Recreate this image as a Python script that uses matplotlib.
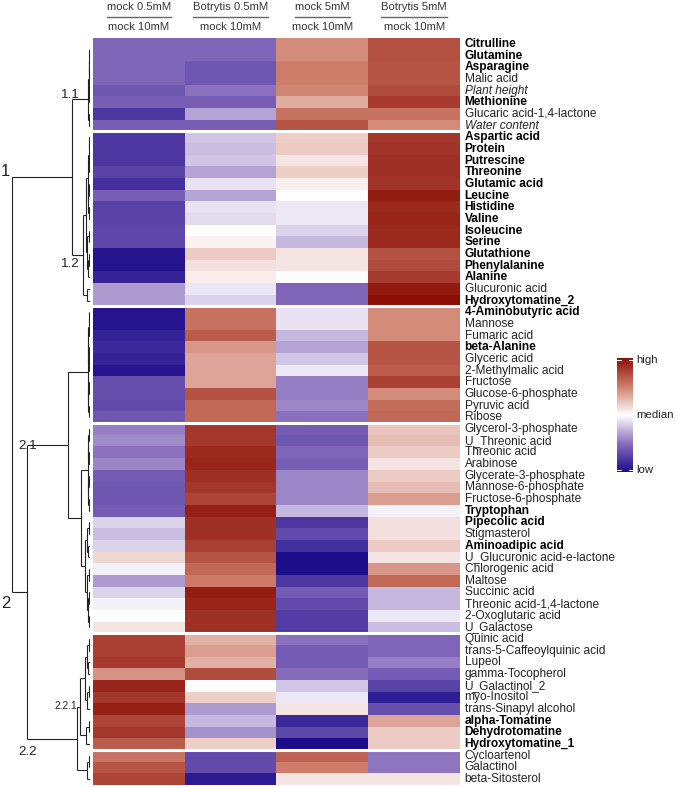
import numpy as np
import matplotlib
matplotlib.use('Agg')
import matplotlib.pyplot as plt
from matplotlib.colors import LinearSegmentedColormap
from matplotlib.lines import Line2D

plt.rcParams['font.family'] = ['Liberation Sans', 'DejaVu Sans']

W, H = 676, 787

# column headers (ratio: top / bottom)
cond_top = ['mock 0.5mM', 'Botrytis 0.5mM', 'mock 5mM', 'Botrytis 5mM']
cond_bottom = ['mock 10mM', 'mock 10mM', 'mock 10mM', 'mock 10mM']

metabolites = [
    'Citrulline', 'Glutamine', 'Asparagine', 'Malic acid', 'Plant height',
    'Methionine', 'Glucaric acid-1,4-lactone', 'Water content',
    'Aspartic acid', 'Protein', 'Putrescine', 'Threonine', 'Glutamic acid',
    'Leucine', 'Histidine', 'Valine', 'Isoleucine', 'Serine', 'Glutathione',
    'Phenylalanine', 'Alanine', 'Glucuronic acid', 'Hydroxytomatine_2',
    '4-Aminobutyric acid', 'Mannose', 'Fumaric acid', 'beta-Alanine',
    'Glyceric acid', '2-Methylmalic acid', 'Fructose', 'Glucose-6-phosphate',
    'Pyruvic acid', 'Ribose',
    'Glycerol-3-phosphate', 'U_Threonic acid', 'Threonic acid', 'Arabinose',
    'Glycerate-3-phosphate', 'Mannose-6-phosphate', 'Fructose-6-phosphate',
    'Tryptophan', 'Pipecolic acid', 'Stigmasterol', 'Aminoadipic acid',
    'U_Glucuronic acid-e-lactone', 'Chlorogenic acid', 'Maltose',
    'Succinic acid', 'Threonic acid-1,4-lactone', '2-Oxoglutaric acid',
    'U_Galactose',
    'Quinic acid', 'trans-5-Caffeoylquinic acid', 'Lupeol', 'gamma-Tocopherol',
    'U_Galactinol_2', 'myo-Inositol', 'trans-Sinapyl alcohol',
    'alpha-Tomatine', 'Dehydrotomatine', 'Hydroxytomatine_1',
    'Cycloartenol', 'Galactinol', 'beta-Sitosterol',
]
bold_names = {
    'Citrulline', 'Glutamine', 'Asparagine', 'Methionine', 'Aspartic acid',
    'Protein', 'Putrescine', 'Threonine', 'Glutamic acid', 'Leucine',
    'Histidine', 'Valine', 'Isoleucine', 'Serine', 'Glutathione',
    'Phenylalanine', 'Alanine', 'Hydroxytomatine_2', '4-Aminobutyric acid',
    'beta-Alanine', 'Tryptophan', 'Pipecolic acid', 'Aminoadipic acid',
    'alpha-Tomatine', 'Dehydrotomatine', 'Hydroxytomatine_1',
}
italic_names = {'Plant height', 'Water content'}
group_sizes = [8, 15, 10, 18, 10, 3]

# scaled values, -1 = low, 0 = median, 1 = high
mock_05 = [-0.55, -0.55, -0.55, -0.55, -0.62, -0.58, -0.78, -0.58,
           -0.78, -0.78, -0.78, -0.72, -0.82, -0.58, -0.72, -0.72, -0.70, -0.70,
           -0.95, -0.95, -0.88, -0.35, -0.35,
           -0.95, -0.95, -0.88, -0.85, -0.88, -0.95, -0.65, -0.65, -0.68, -0.62,
           -0.45, -0.40, -0.50, -0.42, -0.60, -0.62, -0.62, -0.60, -0.15, -0.22,
           -0.15, 0.15, -0.05, -0.35, -0.15, -0.04, 0.0, 0.10,
           0.78, 0.78, 0.80, 0.42, 0.90, 0.82, 0.92, 0.75, 0.82, 0.65,
           0.55, 0.68, 0.75]
botrytis_05 = [-0.55, -0.55, -0.62, -0.62, -0.50, -0.58, -0.32, -0.58,
               -0.20, -0.22, -0.20, -0.32, -0.10, -0.32, -0.10, -0.12, 0.0, 0.04,
               0.20, 0.12, 0.07, -0.08, -0.15,
               0.55, 0.55, 0.65, 0.40, 0.35, 0.35, 0.35, 0.70, 0.60, 0.60,
               0.82, 0.82, 0.88, 0.90, 0.85, 0.82, 0.75, 0.92, 0.85, 0.85,
               0.78, 0.68, 0.60, 0.52, 0.93, 0.90, 0.85, 0.85,
               0.30, 0.38, 0.30, 0.72, 0.0, 0.18, -0.35, -0.25, -0.38, 0.18,
               -0.68, -0.68, -0.92]
mock_5 = [0.45, 0.45, 0.50, 0.50, 0.47, 0.32, 0.55, 0.68,
          0.18, 0.20, 0.10, 0.18, 0.06, 0.0, -0.08, -0.08, -0.15, -0.25,
          0.10, 0.10, 0.0, -0.55, -0.55,
          -0.10, -0.10, -0.25, -0.32, -0.20, -0.08, -0.45, -0.45, -0.42, -0.50,
          -0.60, -0.62, -0.55, -0.58, -0.42, -0.42, -0.42, -0.25, -0.78, -0.68,
          -0.82, -0.98, -0.98, -0.78, -0.60, -0.68, -0.75, -0.75,
          -0.50, -0.60, -0.60, -0.52, -0.20, -0.08, 0.10, -0.85, -0.70, -1.0,
          0.62, 0.50, 0.10]
botrytis_5 = [0.70, 0.70, 0.68, 0.68, 0.72, 0.80, 0.55, 0.45,
              0.82, 0.83, 0.85, 0.85, 0.83, 0.93, 0.88, 0.90, 0.88, 0.88,
              0.70, 0.72, 0.80, 0.95, 1.0,
              0.45, 0.45, 0.45, 0.68, 0.68, 0.65, 0.78, 0.45, 0.58, 0.60,
              0.22, 0.25, 0.20, 0.10, 0.20, 0.25, 0.38, -0.04, 0.12, 0.12,
              0.20, 0.10, 0.40, 0.60, -0.25, -0.25, -0.08, -0.22,
              -0.55, -0.55, -0.45, -0.60, -0.72, -0.90, -0.65, 0.35, 0.20, 0.20,
              -0.48, -0.48, 0.10]

# row dendrogram: (height, left, right), leaves are row indices
tree = (78,
        (18,
         (2, (1.5, (0.8, (0.4, 0, 1), (0.6, 2, 3)), (1, 4, 5)), (1.2, 6, 7)),
         (7,
          (4, (2.5, (1.5, (0.8, 8, 9), (1.2, 10, 11)), (2, (0.8, 12, 13), (1.4, 14, 15))),
           (3, (1, 16, 17), (1.6, (0.8, 18, 19), 20))),
          (3, 21, 22))),
        (63,
         (22,
          (2.5, (1.8, (1, (0.6, 23, 24), 25), (1.4, (0.8, 26, 27), 28)),
           (2, (1, 29, 30), (1.2, 31, 32))),
          (9,
           (2.5, (1.8, (1, 33, 34), (1.4, 35, 36)), (2, (1, 37, 38), (1.5, 39, 40))),
           (5, (3, (1.5, 41, 42), (2, 43, 44)),
            (3.5, (1.5, 45, 46), (2.5, (1, 47, 48), (1.5, 49, 50)))))),
         (13,
          (10, (5, (3, (1.5, 51, 52), (2, 53, 54)), (3.5, (1.5, 55, 56), 57)),
           (4, (1.5, 58, 59), 60)),
          (3, (1.5, 61, 62), 63))))

cmap = LinearSegmentedColormap.from_list(
    'purple_red',
    [(0.0, '#1c0b8b'), (0.25, '#8a70bd'), (0.5, '#ffffff'),
     (0.75, '#cf7f6c'), (1.0, '#8c0f07')])


def rect(x0, y0, x1, y1):
    return [x0 / W, 1 - y1 / H, (x1 - x0) / W, (y1 - y0) / H]


fig = plt.figure(figsize=(W / 100, H / 100), dpi=100)

# heatmap
ax = fig.add_axes(rect(93, 38, 460, 785))
data = np.column_stack([mock_05, botrytis_05, mock_5, botrytis_5])
n = len(metabolites)
ax.imshow(data, cmap=cmap, vmin=-1, vmax=1, aspect='auto', interpolation='nearest')
ax.set_xlim(-0.5, 3.5)
ax.set_ylim(n - 0.5, -0.5)
for b in np.cumsum(group_sizes)[:-1]:
    ax.axhline(b - 0.5, color='white', lw=2.2)
ax.set_xticks([])
ax.set_yticks([])
for s in ax.spines.values():
    s.set_visible(False)

for i, name in enumerate(metabolites):
    ax.text(3.55, i, name, fontsize=8.6, va='center', ha='left',
            fontweight='bold' if name in bold_names else 'normal',
            fontstyle='italic' if name in italic_names else 'normal',
            color='black' if name in bold_names else '#222222')

# column headers
renderer = fig.canvas.get_renderer()
for j, (top, bottom) in enumerate(zip(cond_top, cond_bottom)):
    xc = ax.transData.transform((j, 0))[0] / W
    t = fig.text(xc, 1 - 6.5 / H, top, ha='center', va='center', fontsize=8.1,
                 color='#333333')
    fig.text(xc, 1 - 27 / H, bottom, ha='center', va='center', fontsize=8.1,
             color='#333333')
    bb = t.get_window_extent(renderer)
    fig.add_artist(Line2D([bb.x0 / W, bb.x1 / W], [1 - 16.5 / H, 1 - 16.5 / H],
                          color='#666666', lw=1.0))

# dendrogram
axd = fig.add_axes(rect(0, 38, 90, 785))
axd.set_xlim(90, 0)
axd.set_ylim(n - 0.5, -0.5)
axd.axis('off')


def draw(node):
    if isinstance(node, int):
        return node, 0.0
    h, left, right = node
    yl, hl = draw(left)
    yr, hr = draw(right)
    kw = dict(color='#222222', lw=0.8, solid_capstyle='butt')
    axd.plot([hl, h], [yl, yl], **kw)
    axd.plot([hr, h], [yr, yr], **kw)
    axd.plot([h, h], [yl, yr], **kw)
    return (yl + yr) / 2, h


draw(tree)

for txt, x, y, fs in [('1', 10, 172, 12), ('2', 10, 604, 12),
                      ('1.1', 80, 95, 9.6), ('1.2', 80, 264, 9.6),
                      ('2.1', 37, 446, 9.6), ('2.2', 37, 752, 9.6),
                      ('2.2.1', 77, 706, 7.4)]:
    fig.text(x / W, 1 - y / H, txt, ha='right', va='center', fontsize=fs,
             color='#222222')

# colour key
axc = fig.add_axes(rect(617, 358, 633, 472))
grad = np.linspace(1, -1, 256).reshape(-1, 1)
axc.imshow(grad, cmap=cmap, aspect='auto', extent=(0, 1, -1, 1))
axc.set_xlim(0, 1)
axc.set_ylim(-1, 1)
axc.axis('off')
for yv in (0.97, -0.97):
    axc.plot([0, 0.25], [yv, yv], color='white', lw=0.8)
    axc.plot([0.75, 1], [yv, yv], color='white', lw=0.8)
for txt, yv in [('high', 0.97), ('median', 0.0), ('low', -0.97)]:
    axc.text(1.2, yv, txt, fontsize=8.2, va='center', ha='left', color='#222222',
             clip_on=False)

fig.savefig('out.png', dpi=100)
